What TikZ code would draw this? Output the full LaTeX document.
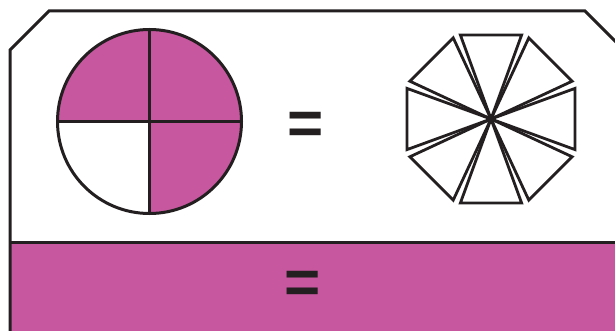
\documentclass[tikz,border=0pt]{standalone}
\usepackage{fontspec}
\setmainfont{Liberation Sans}
\usetikzlibrary{calc}
\definecolor{fracpink}{RGB}{199,87,159}
\definecolor{inkblack}{RGB}{35,31,32}
\tikzset{
  outline/.style={draw=inkblack, line width=3pt},
  eqsign/.style={inner sep=0pt, text=inkblack, font=\bfseries\fontsize{62}{62}\selectfont},
}
\begin{document}
\begin{tikzpicture}[x=1pt, y=-1pt]
  \clip (0,0) rectangle (615,331);

  % card with cut corners and the bottom band
  \fill[fracpink] (10,242) rectangle (625,340);
  \draw[outline, line join=miter] (10,340) -- (10,50) -- (49,11) -- (585,11) -- (625,51);
  \draw[outline] (10,242) -- (625,242);

  % circle, three quarters shaded
  \coordinate (c) at (149.5,121.5);
  \fill[fracpink] (c) circle[radius=92];
  \fill[white] (c) -- ++(180:92) arc[start angle=180, end angle=90, radius=92] -- cycle;
  \draw[outline] (c) circle[radius=92];
  \draw[outline] ($(c)+(-92,0)$) -- ($(c)+(92,0)$);
  \draw[outline] ($(c)+(0,-92)$) -- ($(c)+(0,92)$);

  \node[eqsign] (eqtop) at (305.5,128) {=};

  % octagon cut into eight triangles
  \coordinate (o) at (491,119);
  \foreach \k in {0,...,7} {
    \coordinate (p) at ($(o)+({22.5+45*\k}:91)$);
    \coordinate (q) at ($(o)+({67.5+45*\k}:91)$);
    \draw[outline, line width=2.8pt, line join=miter]
      (o) -- ($(p)!0.06!(q)$) -- ($(q)!0.06!(p)$) -- cycle;
  }

  \node[eqsign] (eqbot) at (302.5,287.7) {=};
\end{tikzpicture}
\end{document}
